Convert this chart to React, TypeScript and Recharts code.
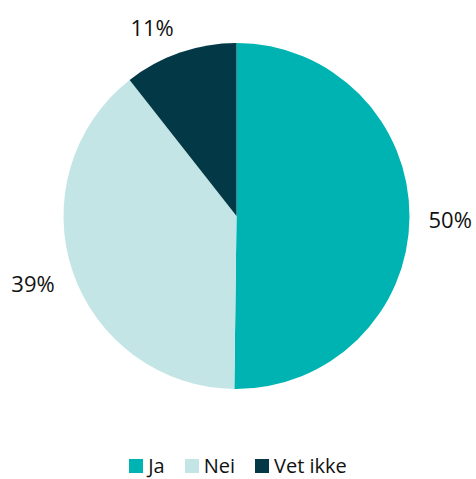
import { PieChart, Pie, Cell, Legend } from 'recharts'

const categories = ['Ja', 'Nei', 'Vet ikke']
const shares = [50.2, 39.2, 10.6]
const colors = ['#00B3B3', '#C4E5E6', '#033947']

const data = categories.map((name, i) => ({ name, value: shares[i] }))

const FONT = '"Open Sans", sans-serif'
const RADIAN = Math.PI / 180

function renderLabel(props: any) {
  const { cx, cy, midAngle, outerRadius, value } = props
  const r = outerRadius + 19
  const cos = Math.cos(-midAngle * RADIAN)
  const sin = Math.sin(-midAngle * RADIAN)
  const x = cx + r * cos
  const y = cy + r * sin + sin * 10
  const anchor = cos > 0.05 ? 'start' : cos < -0.05 ? 'end' : 'middle'
  return (
    <text
      x={x}
      y={y + 2}
      textAnchor={anchor}
      dominantBaseline="central"
      fill="#111"
      fontSize={22}
      fontFamily={FONT}
    >
      {`${Math.round(value)}%`}
    </text>
  )
}

function LegendContent() {
  return (
    <div style={{ display: 'flex', justifyContent: 'center', alignItems: 'center', fontFamily: FONT, fontSize: 20, color: '#111' }}>
      {categories.map((name, i) => (
        <div key={name} style={{ display: 'flex', alignItems: 'center', marginLeft: i === 0 ? 0 : 20 }}>
          <span style={{ display: 'inline-block', width: 14, height: 14, background: colors[i], marginRight: 5 }} />
          <span style={{ lineHeight: '26px' }}>{name}</span>
        </div>
      ))}
    </div>
  )
}

export default function App() {
  return (
    <div style={{ position: 'absolute', left: 0, top: 0, width: 476, height: 479, background: '#fff' }}>
      <PieChart width={476} height={479} margin={{ top: 0, right: 0, bottom: 0, left: 0 }}>
        <Pie
          data={data}
          dataKey="value"
          nameKey="name"
          cx={236.5}
          cy={216}
          outerRadius={173}
          startAngle={90}
          endAngle={-270}
          stroke="none"
          label={renderLabel}
          labelLine={false}
          isAnimationActive={false}
        >
          {data.map((d, i) => (
            <Cell key={d.name} fill={colors[i]} />
          ))}
        </Pie>
        <Legend
          content={<LegendContent />}
          wrapperStyle={{ position: 'absolute', top: 453, left: 0, width: 476 }}
        />
      </PieChart>
    </div>
  )
}
